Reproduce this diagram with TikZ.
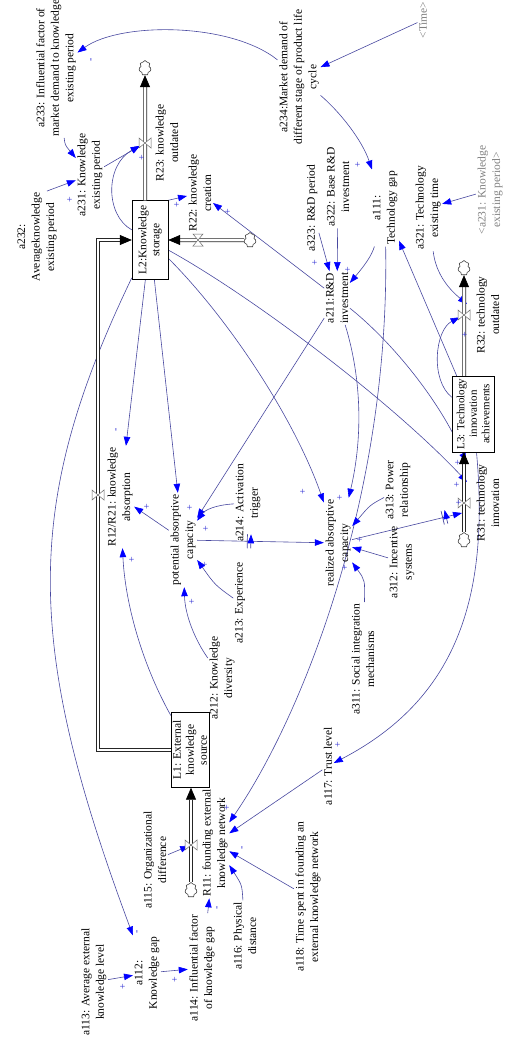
\documentclass[tikz,border=0pt]{standalone}
\usepackage{fontspec}
\setmainfont{Liberation Serif}
\usetikzlibrary{arrows.meta, shapes.symbols, decorations.markings, backgrounds}
\definecolor{linkc}{RGB}{72,72,160}
\definecolor{tipc}{RGB}{0,0,255}
\definecolor{signc}{RGB}{40,40,210}
\tikzset{
    var/.style={rotate=90, align=center, inner sep=1.5pt, font=\fontsize{11.5}{14.5}\selectfont},
    shadow/.style={var, text=gray},
    stock/.style={rectangle, draw, fill=white, rotate=90, align=center, inner sep=1pt, font=\fontsize{11.5}{13}\selectfont},
    sgn/.style={rotate=90, text=signc, inner sep=0pt, font=\fontsize{10}{10}\selectfont},
    link/.style={draw=linkc, line width=0.6pt, -{Triangle[length=9pt,width=6.5pt,color=tipc]}},
    pipe/.style={draw=black!85, line width=0.7pt, double=white, double distance=2.6pt, -{Triangle[length=12pt,width=10pt,color=black]}},
    valve/.style={draw=black!60, fill=white, line width=0.5pt},
    sky/.style={cloud, cloud puffs=7, draw=black!75, fill=white, line width=0.6pt, minimum width=12pt, minimum height=15pt, inner sep=0pt},
    delay/.style={postaction={decorate, decoration={markings, mark=at position #1 with {\draw[linkc, line width=0.7pt] (-1.8pt,-7pt) -- (-1.8pt,7pt) (1.8pt,-7pt) -- (1.8pt,7pt);}}}},
}
\begin{document}
\begin{tikzpicture}[x=1pt, y=-1pt]
    \useasboundingbox (0,0) rectangle (508,1039);
    \node[var] (a233) at (56,68) {a233: Influential factor of\\market demand to knowledge\\existing period};
    \node[var] (a231) at (90,175) {a231: Knowledge\\existing period};
    \node[var] (a232) at (37,237) {a232:\\Averageknowledge\\existing period};
    \node[var] (a234) at (299,77) {a234:Market demand of\\different stage of product life\\cycle};
    \node[shadow] (time) at (423,20) {<Time>};
    \node[var] (a111) at (385,208) {a111:\\Technology gap};
    \node[var] (a321) at (428,208) {a321: Technology\\existing time};
    \node[shadow] (a231s) at (490,190) {<a231: Knowledge\\existing period>};
    \node[var] (a323) at (312,208) {a323: R\&D period};
    \node[var] (a322) at (338,187) {a322: Base R\&D\\investment};
    \node[var] (a211) at (337,298) {a211:R\&D\\investment};
    \node[var] (pot) at (183,540) {potential absorptive\\capacity};
    \node[var] (real) at (338,543) {realized absorptive\\capacity};
    \node[var] (a214) at (248,503) {a214: Activation\\trigger};
    \node[var] (a213) at (240,603) {a213: Experience};
    \node[var] (a212) at (222,678) {a212: Knowledge\\diversity};
    \node[var] (a313) at (398,490) {a313: Power\\relationship};
    \node[var] (a312) at (402,562) {a312: Incentive\\systems};
    \node[var] (a311) at (363,659) {a311: Social integration\\mechanisms};
    \node[var] (a117) at (328,766) {a117: Trust level};
    \node[var] (a115) at (155,860) {a115: Organizational\\difference};
    \node[var] (a116) at (245,936) {a116: Physical\\distance};
    \node[var] (a118) at (308,897) {a118: Time spent in founding an\\external knowledge network};
    \node[var] (a113) at (94,982) {a113: Average external\\knowledge level};
    \node[var] (a112) at (147,973) {a112:\\Knowledge gap};
    \node[var] (a114) at (202,968) {a114: Influential factor\\of knowledge gap};
    \node[var] (r23) at (167,143) {R23: knowledge\\outdated};
    \node[var] (r22) at (200,193) {R22: knowledge\\creation};
    \node[var] (r12) at (120,497) {R12/R21: knowledge\\absorption};
    \node[var] (r11) at (215,843) {R11: founding external\\knowledge network};
    \node[var] (r32) at (488,315) {R32: technology\\outdated};
    \node[var] (r31) at (488,503) {R31: technology\\innovation};
    \node[stock, minimum width=79pt, minimum height=36pt] (L2) at (150,240) {L2:Knowledge\\storage};
    \node[stock, minimum width=76pt, minimum height=42pt, font=\fontsize{11}{12.5}\selectfont, inner xsep=0pt] (L3) at (473,414) {L3: Technology\\innovation\\achievements};
    \node[stock, minimum width=75pt, minimum height=38pt] (L1) at (190,750) {L1: External\\knowledge\\source};
    \node[sky] (c23) at (145,68) {};
    \node[sky] (c22) at (250,240) {};
    \node[sky] (c32) at (464,268) {};
    \node[sky] (c31) at (464,540) {};
    \node[sky] (c11) at (191,890) {};
    \coordinate (v23) at (145,143);
    \coordinate (v22) at (198,240);
    \coordinate (v12) at (98,495);
    \coordinate (v11) at (191,845);
    \coordinate (v32) at (464,315);
    \coordinate (v31) at (464,503);
    \coordinate (k12) at (98,750);
    \coordinate (t31a) at (466,462);
    \coordinate (t31b) at (467,482);
    \coordinate (t31c) at (462,513);
    \coordinate (t32) at (467,304);

    \begin{scope}[on background layer]
    \draw[link] (a234) .. controls (230,22) and (120,22) .. (a233);
    \draw[link] (time) -- (a234);
    \draw[link] (a234) .. controls (340,112) and (362,140) .. (a111);
    \draw[link] (a233) .. controls (65,145) .. (a231);
    \draw[link] ([xshift=10pt]a232.east) -- (a231);
    \draw[link, shorten >=6pt] (a231) -- (v23);
    \draw[link, shorten >=6pt] (L2) .. controls (105,215) and (105,165) .. (v23);
    \draw[link] (L2.south east) -- (r22);
    \draw[link] (a211) -- (r22);
    \draw[link] (L2) -- (r12);
    \draw[link] (L2) -- (pot);
    \draw[link] (L2) .. controls (230,320) and (295,420) .. (real);
    \draw[link] (L2) .. controls (250,295) and (390,400) .. (t31b);
    \draw[link] (a211) .. controls (390,340) and (440,400) .. (t31a);
    \draw[link, delay=0.84] (real) -- (t31c);
    \draw[link] (a111) .. controls (372,255) and (365,265) .. (a211);
    \draw[link] (a323) -- (a211);
    \draw[link] (a322) -- (a211);
    \draw[link] (a211) -- (pot);
    \draw[link] (a214) .. controls (215,505) and (205,510) .. (pot);
    \draw[link] (a213) .. controls (215,585) .. (pot);
    \draw[link] (a212) .. controls (195,640) and (185,615) .. (pot);
    \draw[link] (pot) -- (r12);
    \draw[link] (L1) .. controls (140,660) and (125,600) .. (r12);
    \draw[link] (L2) .. controls (23,504) and (24,643) .. (a112);
    \draw[link] (a111) .. controls (390,500) and (300,720) .. (r11);
    \draw[link] (L3) -- (a111);
    \draw[link] (a321) .. controls (436,275) and (450,290) .. (t32);
    \draw[link, shorten >=5pt] (L3) .. controls (430,380) and (435,330) .. (v32);
    \draw[link] (a231s) -- (a321);
    \draw[link] (a313) .. controls (370,505) .. (real);
    \draw[link] (a312) -- (real);
    \draw[link] (a311) .. controls (365,580) .. (real);
    \draw[link] (a211) .. controls (365,390) and (360,450) .. (real);
    \draw[link, delay=0.41] (pot) -- (real);
    \draw[link] (L3) .. controls (490,600) and (455,700) .. (a117);
    \draw[link] (a117) -- (r11);
    \draw[link] (a118) -- (r11);
    \draw[link] (a116) .. controls (242,885) .. (r11);
    \draw[link, shorten >=2pt] (a115) -- (v11);
    \draw[link] (a114) -- (r11);
    \draw[link] (a113) -- (a112);
    \draw[link] (a112) -- (a114);
    \end{scope}

    \draw[pipe] (c23 |- L2.east) -- (c23);
    \draw[pipe] (c22) -- (L2.south);
    \draw[pipe] (L1.north) -- (k12) |- (L2.north);
    \draw[pipe] (c11) -- (c11 |- L1.west);
    \draw[pipe] (c32 |- L3.east) -- (c32);
    \draw[pipe] (c31) -- (c31 |- L3.west);

    \draw[valve] (v23) ++(-6,-5) -- ++(12,10) -- ++(0,-10) -- ++(-12,10) -- cycle;
    \draw[valve] (v12) ++(-6,-5) -- ++(12,10) -- ++(0,-10) -- ++(-12,10) -- cycle;
    \draw[valve] (v11) ++(-6,-5) -- ++(12,10) -- ++(0,-10) -- ++(-12,10) -- cycle;
    \draw[valve] (v32) ++(-6,-5) -- ++(12,10) -- ++(0,-10) -- ++(-12,10) -- cycle;
    \draw[valve] (v31) ++(-6,-5) -- ++(12,10) -- ++(0,-10) -- ++(-12,10) -- cycle;
    \draw[valve] (v22) ++(-5,-6) -- ++(10,0) -- ++(-10,12) -- ++(10,0) -- cycle;

    \node[sgn] (s1) at (92,60) {-};
    \node[sgn] (s2) at (358,165) {+};
    \node[sgn] (s3) at (70,200) {+};
    \node[sgn] (s4) at (142,158) {+};
    \node[sgn] (s5) at (177,205) {+};
    \node[sgn] (s6) at (228,212) {+};
    \node[sgn] (s7) at (117,430) {-};
    \node[sgn] (s8) at (147,507) {+};
    \node[sgn] (s9) at (132,560) {+};
    \node[sgn] (s10) at (190,508) {+};
    \node[sgn] (s11) at (206,529) {+};
    \node[sgn] (s12) at (205,565) {+};
    \node[sgn] (s13) at (192,602) {+};
    \node[sgn] (s14) at (303,492) {+};
    \node[sgn] (s15) at (340,498) {+};
    \node[sgn] (s16) at (345,568) {+};
    \node[sgn] (s17) at (360,540) {+};
    \node[sgn] (s18) at (458,463) {+};
    \node[sgn] (s19) at (457,485) {+};
    \node[sgn] (s20) at (459,503) {+};
    \node[sgn] (s21) at (465,335) {+};
    \node[sgn] (s22) at (315,263) {+};
    \node[sgn] (s23) at (348,270) {+};
    \node[sgn] (s24) at (338,745) {+};
    \node[sgn] (s25) at (227,808) {+};
    \node[sgn] (s26) at (243,848) {-};
    \node[sgn] (s27) at (218,908) {-};
    \node[sgn] (s28) at (138,932) {-};
    \node[sgn] (s29) at (123,987) {+};
    \node[sgn] (s30) at (175,980) {+};
\end{tikzpicture}
\end{document}
